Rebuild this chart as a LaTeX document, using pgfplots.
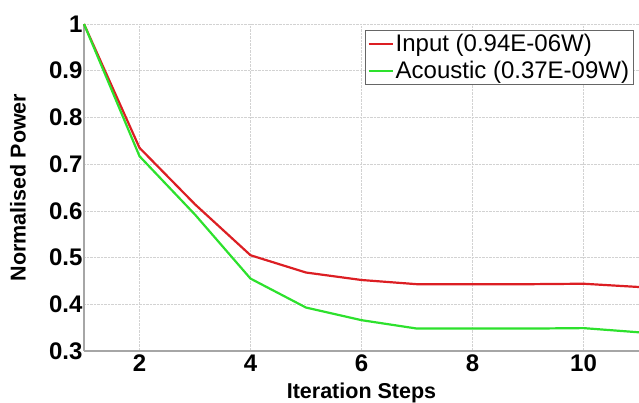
\documentclass[border=0pt]{standalone}
\usepackage{pgfplots}
\pgfplotsset{compat=1.18}
\usepackage{fontspec}
\setmainfont{Liberation Sans}

\definecolor{inred}{RGB}{220,30,35}
\definecolor{acgreen}{RGB}{45,225,45}

\begin{document}
\begin{tikzpicture}
  \begin{axis}[
      at={(84pt,51pt)}, anchor=south west,
      scale only axis, width=555pt, height=327pt,
      xmin=1, xmax=11, ymin=0.3, ymax=1,
      xtick={2,4,...,10}, ytick={0.3,0.4,...,1.0},
      yticklabels={0.3,0.4,0.5,0.6,0.7,0.8,0.9,1},
      /pgf/number format/assume math mode=true,
      tick label style={font=\fontsize{24}{26}\selectfont\bfseries},
      yticklabel style={xshift=2pt},
      label style={font=\fontsize{21.5}{24}\selectfont\bfseries},
      xlabel={Iteration Steps}, ylabel={Normalised Power},
      xlabel style={at={(axis description cs:0.5,0)}, anchor=center, yshift=-42pt},
      ylabel style={at={(axis description cs:0,0.5)}, anchor=center, yshift=66pt},
      axis x line*=bottom, axis y line*=left,
      axis line style={gray!70, line width=1.2pt},
      major tick length=0pt,
      grid=major,
      major grid style={gray!35, densely dotted, line width=0.6pt},
      legend style={at={(0.507,0.981)}, anchor=north west,
        font=\fontsize{24}{26}\selectfont, draw=gray!80!black,
        fill=white, inner sep=2pt, row sep=4pt,
        /tikz/every even column/.append style={column sep=0pt}},
      legend image post style={xscale=1.4},
      legend cell align=left,
      clip=false,
    ]
    \addplot[inred, line width=2.2pt] coordinates {
      (1,1.000) (2,0.735) (3,0.614) (4,0.505) (5,0.468) (6,0.452)
      (7,0.443) (8,0.443) (9,0.443) (10,0.444) (11,0.437)
    };
    \addlegendentry{Input (0.94E-06W)}
    \addplot[acgreen, line width=2.2pt] coordinates {
      (1,1.000) (2,0.717) (3,0.592) (4,0.455) (5,0.393) (6,0.366)
      (7,0.348) (8,0.348) (9,0.348) (10,0.349) (11,0.340)
    };
    \addlegendentry{Acoustic (0.37E-09W)}
  \end{axis}
  \pgfresetboundingbox
  \path[use as bounding box] (0,0) rectangle (639pt,402pt);
\end{tikzpicture}
\end{document}
